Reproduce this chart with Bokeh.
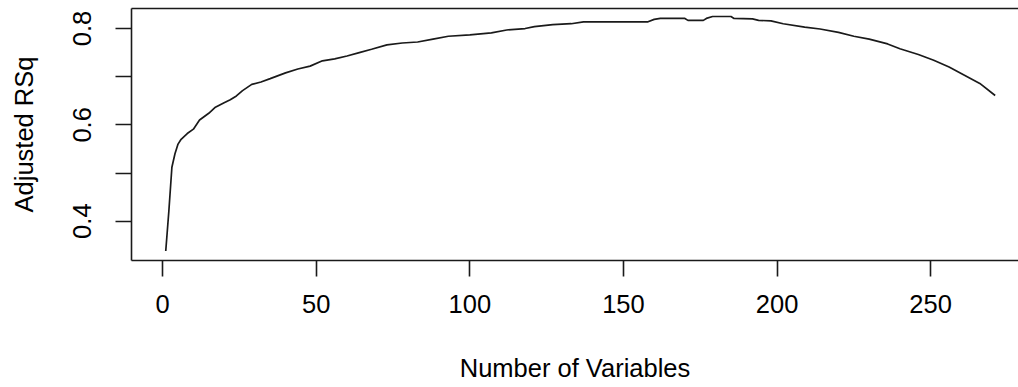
from bokeh.plotting import figure
from bokeh.models import LinearAxis, FixedTicker, Range1d
from bokeh.embed import file_html
from bokeh.resources import INLINE

# Adjusted R-squared of the best model for each number of variables
n_vars = [1, 2, 3, 4, 5, 6, 8, 10, 12, 15, 17, 20, 22, 24, 26, 29, 32, 35, 40, 44,
          48, 52, 56, 60, 64, 68, 73, 78, 83, 88, 93, 100, 107, 112, 118, 121, 127,
          133, 137, 150, 158, 160, 162, 170, 171, 176, 177, 179, 185, 186, 192, 194,
          198, 202, 209, 214, 220, 225, 230, 236, 240, 246, 251, 256, 261, 266, 271]
adj_rsq = [0.338, 0.420, 0.512, 0.540, 0.560, 0.570, 0.582, 0.591, 0.610, 0.624,
           0.636, 0.646, 0.652, 0.660, 0.671, 0.684, 0.689, 0.696, 0.708, 0.716,
           0.722, 0.733, 0.737, 0.743, 0.750, 0.757, 0.766, 0.770, 0.772, 0.778,
           0.784, 0.787, 0.791, 0.797, 0.800, 0.804, 0.808, 0.810, 0.814, 0.814,
           0.814, 0.819, 0.821, 0.821, 0.817, 0.817, 0.821, 0.825, 0.825, 0.821,
           0.820, 0.817, 0.816, 0.810, 0.803, 0.799, 0.792, 0.784, 0.778, 0.768,
           0.758, 0.746, 0.734, 0.720, 0.703, 0.686, 0.661]

x_ticks = [0, 50, 100, 150, 200, 250]
y_ticks = [0.4, 0.5, 0.6, 0.7, 0.8]
y_tick_text = {0.4: "0.4", 0.5: "", 0.6: "0.6", 0.7: "", 0.8: "0.8"}

FONT = "Liberation Sans"
FSIZE = "25.5px"
INK = "#1a1a1a"

p = figure(width=1018, height=387, output_backend="svg", toolbar_location=None,
           x_range=Range1d(-10.15, 278.6), y_range=Range1d(0.3183, 0.8416),
           x_axis_location=None, y_axis_location=None,
           min_border_left=131, min_border_right=0, min_border_top=8,
           min_border_bottom=127, background_fill_color="white",
           border_fill_color="white", outline_line_color=None)
p.xgrid.visible = False
p.ygrid.visible = False

p.line(n_vars, adj_rsq, line_color=INK, line_width=1.7)


def style(ax):
    ax.axis_line_color = INK
    ax.axis_line_width = 1.6
    ax.major_tick_line_color = INK
    ax.major_tick_line_width = 1.6
    ax.major_tick_in = 0
    ax.major_tick_out = 16
    ax.minor_tick_line_color = None
    ax.major_label_text_font = FONT
    ax.major_label_text_font_size = FSIZE
    ax.major_label_text_color = "black"
    ax.axis_label_text_font = FONT
    ax.axis_label_text_font_size = FSIZE
    ax.axis_label_text_font_style = "normal"
    ax.axis_label_text_color = "black"


xa = LinearAxis(ticker=FixedTicker(ticks=x_ticks), axis_label="Number of Variables")
style(xa)
xa.major_label_standoff = 18
xa.axis_label_standoff = 38
p.add_layout(xa, "below")

ya = LinearAxis(ticker=FixedTicker(ticks=y_ticks), axis_label="Adjusted RSq",
                major_label_overrides=y_tick_text)
style(ya)
ya.major_label_orientation = "vertical"
ya.major_label_standoff = 24
ya.axis_label_standoff = 33
p.add_layout(ya, "left")

# top edge of the plot box
top = LinearAxis(ticker=FixedTicker(ticks=[]))
top.axis_line_color = INK
top.axis_line_width = 1.6
top.major_tick_line_color = None
top.minor_tick_line_color = None
top.major_label_text_font_size = "0px"
top.major_label_standoff = 0
top.major_tick_out = 0
top.minor_tick_out = 0
p.add_layout(top, "above")

open("out.html", "w").write(file_html(p, INLINE))
